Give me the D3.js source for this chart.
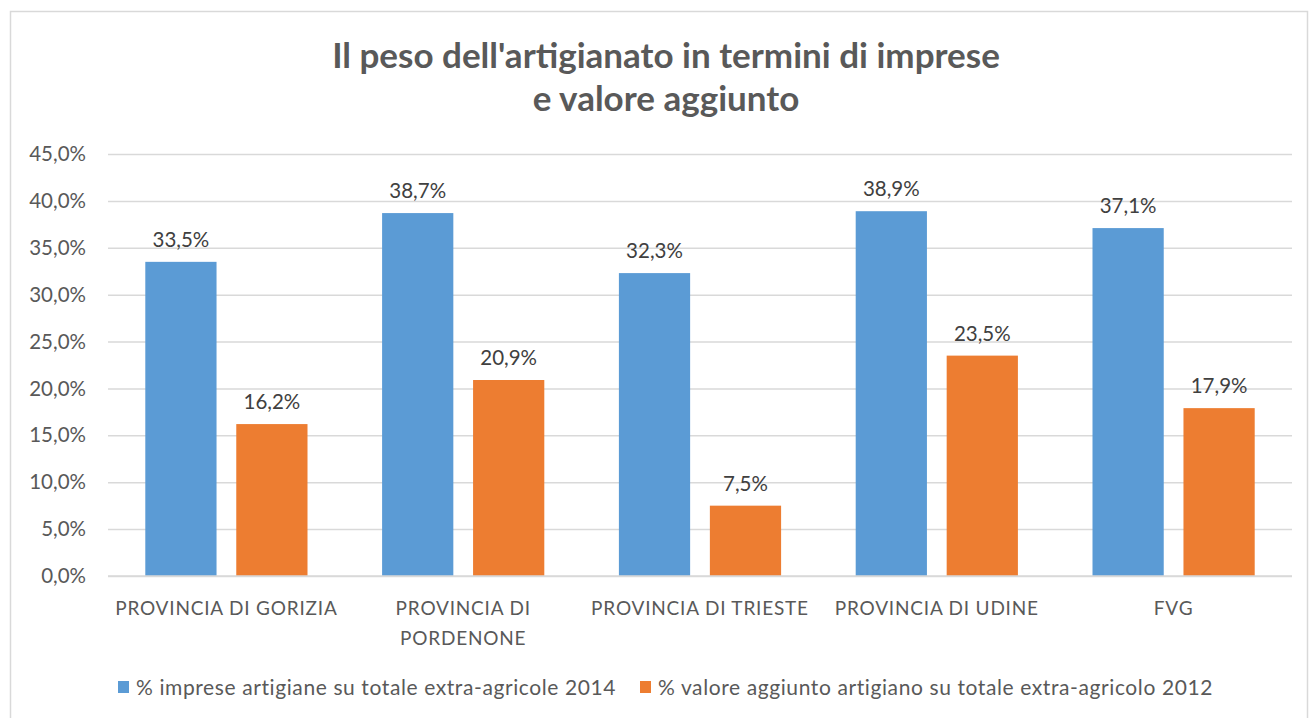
<!DOCTYPE html>
<html>
<head>
<meta charset="utf-8">
<script src="https://cdn.jsdelivr.net/npm/d3@7"></script>
<style>
  body { margin: 0; background: #fff; }
  svg text { font-family: Lato, "Open Sans", sans-serif; }
</style>
</head>
<body>
<div id="chart"></div>
<script>
const categories = ["PROVINCIA DI GORIZIA", "PROVINCIA DI PORDENONE", "PROVINCIA DI TRIESTE", "PROVINCIA DI UDINE", "FVG"]
const categoryLines = [["PROVINCIA DI GORIZIA"], ["PROVINCIA DI", "PORDENONE"], ["PROVINCIA DI TRIESTE"], ["PROVINCIA DI UDINE"], ["FVG"]]
const seriesNames = ["% imprese artigiane su totale extra-agricole 2014", "% valore aggiunto artigiano su totale extra-agricolo 2012"]
const imprese2014 = [33.5, 38.7, 32.3, 38.9, 37.1]
const valore2012 = [16.2, 20.9, 7.5, 23.5, 17.9]
const yTicks = [0, 5, 10, 15, 20, 25, 30, 35, 40, 45]
const colors = ["#5B9BD5", "#ED7D31"]

const width = 1309, height = 718
const margin = { top: 154, right: 17, bottom: 142, left: 108 }
const fmt = v => d3.format(".1f")(v).replace(".", ",") + "%"

const svg = d3.select("#chart").append("svg")
  .attr("width", width)
  .attr("height", height)
  .attr("viewBox", [0, 0, width, height])

// chart border
svg.append("rect")
  .attr("x", 10.5).attr("y", 11.5)
  .attr("width", width - 12).attr("height", height)
  .attr("fill", "none").attr("stroke", "#d9d9d9").attr("stroke-width", 1.5)

// title
svg.append("text")
  .attr("x", 666).attr("y", 68)
  .attr("text-anchor", "middle")
  .attr("font-size", 35).attr("font-weight", "bold").attr("fill", "#595959")
  .selectAll("tspan")
  .data(["Il peso dell'artigianato in termini di imprese", "e valore aggiunto"])
  .join("tspan")
  .attr("x", 666)
  .attr("dy", (d, i) => i ? 43 : 0)
  .text(d => d)

const x0 = d3.scaleBand()
  .domain(categories)
  .range([margin.left, width - margin.right])
  .paddingInner(0).paddingOuter(0)

const x1 = d3.scaleBand()
  .domain([0, 1])
  .range([0, x0.bandwidth()])
  .paddingInner(0.217).paddingOuter(0.41)

const y = d3.scaleLinear()
  .domain([0, 45])
  .range([height - margin.bottom, margin.top])

// gridlines + y axis
const yAxis = d3.axisLeft(y).tickValues(yTicks).tickFormat(fmt).tickSize(0).tickPadding(22)
svg.append("g")
  .attr("transform", `translate(${margin.left},0)`)
  .call(yAxis)
  .call(g => g.select(".domain").remove())
  .call(g => g.selectAll(".tick line")
    .attr("x2", width - margin.left - margin.right)
    .attr("stroke", "#d9d9d9").attr("stroke-width", 1.5))
  .call(g => g.selectAll(".tick text")
    .attr("font-size", 20.5).attr("fill", "#595959")
    .attr("font-family", "Lato, 'Open Sans', sans-serif"))

// bars
const groups = svg.append("g").selectAll("g")
  .data(categories)
  .join("g")
  .attr("transform", d => `translate(${x0(d)},0)`)

const series = [imprese2014, valore2012]
groups.selectAll("rect")
  .data((d, i) => series.map((s, k) => ({ k, v: s[i] })))
  .join("rect")
  .attr("x", d => x1(d.k))
  .attr("y", d => y(d.v))
  .attr("width", x1.bandwidth())
  .attr("height", d => y(0) - y(d.v))
  .attr("fill", d => colors[d.k])

groups.selectAll("text.lbl")
  .data((d, i) => series.map((s, k) => ({ k, v: s[i] })))
  .join("text")
  .attr("class", "lbl")
  .attr("x", d => x1(d.k) + x1.bandwidth() / 2)
  .attr("y", d => y(d.v) - 15)
  .attr("text-anchor", "middle")
  .attr("font-size", 20.5).attr("fill", "#404040")
  .text(d => fmt(d.v))

// x axis line
svg.append("line")
  .attr("x1", margin.left).attr("x2", width - margin.right)
  .attr("y1", y(0)).attr("y2", y(0))
  .attr("stroke", "#d9d9d9").attr("stroke-width", 1.5)

// category labels
svg.append("g").selectAll("text")
  .data(categories)
  .join("text")
  .attr("x", d => x0(d) + x0.bandwidth() / 2)
  .attr("y", y(0) + 39)
  .attr("text-anchor", "middle")
  .attr("font-size", 19).attr("fill", "#595959")
  .attr("letter-spacing", 0.8)
  .selectAll("tspan")
  .data((d, i) => categoryLines[i])
  .join("tspan")
  .attr("x", function () { return d3.select(this.parentNode).attr("x") })
  .attr("dy", (d, i) => i ? 30 : 0)
  .text(d => d)

// legend
const legendX = [118, 640]
const legend = svg.append("g").selectAll("g")
  .data(seriesNames)
  .join("g")
  .attr("transform", (d, i) => `translate(${legendX[i]},681)`)
legend.append("rect")
  .attr("width", 11).attr("height", 12)
  .attr("fill", (d, i) => colors[i])
legend.append("text")
  .attr("x", 18).attr("y", 14)
  .attr("font-size", 21).attr("fill", "#595959")
  .attr("letter-spacing", 0.6)
  .text(d => d)
</script>
</body>
</html>
